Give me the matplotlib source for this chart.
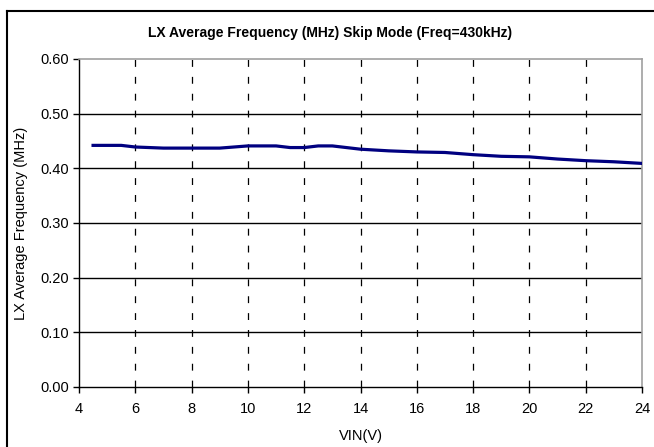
import matplotlib
matplotlib.use("Agg")
import matplotlib.pyplot as plt
from matplotlib.lines import Line2D

plt.rcParams['font.family'] = ['Liberation Sans', 'DejaVu Sans']

# VIN (V) vs average LX frequency (MHz)
vin = [4.5, 5.5, 6, 7, 8, 9, 9.5, 10, 11, 11.5, 12, 12.5, 13, 14, 15, 16,
       17, 18, 19, 20, 21, 22, 23, 24]
freq = [0.442, 0.442, 0.439, 0.437, 0.437, 0.437, 0.439, 0.441, 0.441, 0.438,
        0.438, 0.441, 0.441, 0.435, 0.432, 0.430, 0.429, 0.425, 0.422, 0.421,
        0.417, 0.414, 0.412, 0.409]

x_ticks = list(range(4, 25, 2))
y_ticks = [0.0, 0.1, 0.2, 0.3, 0.4, 0.5, 0.6]

W, H = 654, 447
fig = plt.figure(figsize=(W / 100, H / 100), dpi=100)
ax = fig.add_axes([79 / W, 1 - 387 / H, (642 - 79) / W, (387 - 59) / H])

# outer chart frame (left and top edges visible)
fig.add_artist(Line2D([7 / W, 7 / W], [0, 1 - 11 / H], color='black', lw=1.5,
                      transform=fig.transFigure))
fig.add_artist(Line2D([7 / W, 1], [1 - 11 / H, 1 - 11 / H], color='black', lw=1.5,
                      transform=fig.transFigure))

for y in y_ticks[1:-1]:
    ax.axhline(y, color='black', lw=1.0, zorder=1)
for x in x_ticks[1:-1]:
    ax.axvline(x, color='black', lw=0.9, ls=(0, (5.5, 8)), zorder=1)

ax.plot(vin, freq, color='#000080', lw=2.3, solid_joinstyle='round', zorder=3)

ax.set_xlim(4, 24)
ax.set_ylim(0, 0.6)
ax.set_xticks(x_ticks)
ax.set_yticks(y_ticks)
ax.set_yticklabels([f"{v:.2f}" for v in y_ticks])
ax.tick_params(axis='both', direction='out', length=4, width=1, labelsize=10.5,
               colors='black')
ax.tick_params(axis='x', pad=7)
ax.tick_params(axis='y', pad=3)

for side in ['top', 'right']:
    ax.spines[side].set_color('#a0a0a0')
    ax.spines[side].set_linewidth(1.2)
for side in ['left', 'bottom']:
    ax.spines[side].set_color('black')
    ax.spines[side].set_linewidth(1.0)

ax.set_xlabel("VIN(V)", fontsize=10.5, labelpad=9)
ax.set_ylabel("LX Average Frequency (MHz)", fontsize=10.5, labelpad=9)
fig.text(330 / W, 1 - 33 / H, "LX Average Frequency (MHz) Skip Mode (Freq=430kHz)",
         ha='center', va='center', fontsize=10, fontweight='bold')

fig.savefig("out.png", dpi=100)
